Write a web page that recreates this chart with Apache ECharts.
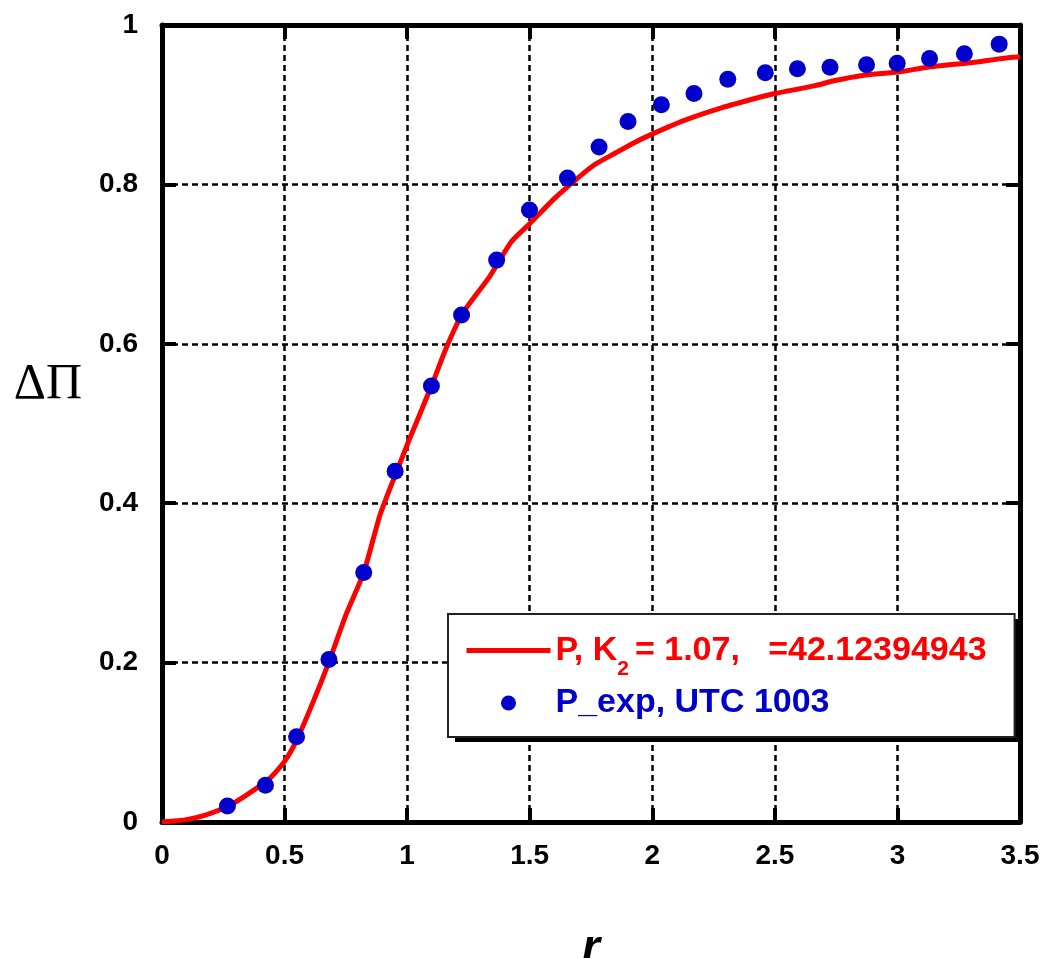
<!DOCTYPE html>
<html><head><meta charset="utf-8">
<script src="https://cdn.jsdelivr.net/npm/echarts@6/dist/echarts.min.js"></script>
<style>html,body{margin:0;padding:0;background:#fff}#c{width:1056px;height:958px}</style>
</head><body><div id="c"></div>
<script>
// Model curve P (red line)
const lineR = [0, 0.1, 0.18, 0.264, 0.346, 0.44, 0.5, 0.55, 0.617, 0.68, 0.753, 0.823, 0.889, 0.951, 1.005, 1.099, 1.161, 1.226, 1.338, 1.425, 1.501, 1.593, 1.654, 1.761, 1.853, 1.93, 2.006, 2.128, 2.282, 2.434, 2.5, 2.665, 2.741, 2.863, 3.001, 3.123, 3.307, 3.49, 3.5];
const lineP = [0, 0.003, 0.009, 0.019, 0.034, 0.055, 0.076, 0.103, 0.151, 0.2, 0.262, 0.313, 0.385, 0.435, 0.477, 0.547, 0.596, 0.638, 0.685, 0.728, 0.751, 0.78, 0.797, 0.824, 0.84, 0.853, 0.864, 0.88, 0.896, 0.909, 0.914, 0.924, 0.93, 0.937, 0.941, 0.947, 0.953, 0.96, 0.96];
// Experimental points (blue dots)
const expR = [0.267, 0.422, 0.549, 0.681, 0.823, 0.951, 1.099, 1.222, 1.365, 1.499, 1.654, 1.783, 1.901, 2.037, 2.170, 2.308, 2.461, 2.592, 2.725, 2.874, 2.999, 3.131, 3.273, 3.415];
const expP = [0.020, 0.046, 0.107, 0.204, 0.313, 0.440, 0.547, 0.636, 0.705, 0.768, 0.808, 0.847, 0.879, 0.900, 0.914, 0.932, 0.940, 0.945, 0.947, 0.950, 0.952, 0.958, 0.964, 0.976];
const lineName = 'P, K2 = 1.07,   =42.12394943';
const expName = 'P_exp, UTC 1003';
const xName = 'r';
const yName = '\u0394\u03A0';

const chart = echarts.init(document.getElementById('c'), null, {renderer: 'canvas'});
const lbl = {fontFamily: 'Liberation Sans', fontWeight: 'bold', fontSize: 28, color: '#000'};
const frameLine = {show: true, onZero: false, lineStyle: {color: '#000', width: 5}};
const tick = {show: true, inside: true, length: 14, lineStyle: {color: '#000', width: 4}};
const grid = {show: true, lineStyle: {color: '#000', width: 2.5, type: [6, 4]}};
chart.setOption({
  animation: false,
  backgroundColor: '#fff',
  grid: {left: 162, right: 36, top: 25, bottom: 136, containLabel: false, outerBoundsMode: 'none'},
  xAxis: [{
    type: 'value', min: 0, max: 3.5, interval: 0.5, position: 'bottom',
    name: xName, nameLocation: 'middle', nameGap: 104,
    nameTextStyle: {fontFamily: 'Liberation Sans', fontWeight: 'bold', fontStyle: 'italic', fontSize: 46, color: '#000'},
    axisLine: frameLine, axisTick: tick, splitLine: grid,
    axisLabel: Object.assign({margin: 20}, lbl)
  }, {
    type: 'value', min: 0, max: 3.5, interval: 0.5, position: 'top',
    axisLine: frameLine, axisTick: tick, splitLine: {show: false}, axisLabel: {show: false}
  }],
  yAxis: [{
    type: 'value', min: 0, max: 1, interval: 0.2, position: 'left',
    name: '{a|' + yName + '}', nameLocation: 'middle', nameRotate: 0, nameGap: 80,
    nameTextStyle: {rich: {a: {fontFamily: 'Liberation Serif', fontSize: 50, color: '#000', padding: [0, 0, 77, 0]}}},
    axisLine: frameLine, axisTick: tick, splitLine: grid,
    axisLabel: Object.assign({margin: 24}, lbl)
  }, {
    type: 'value', min: 0, max: 1, interval: 0.2, position: 'right',
    axisLine: frameLine, axisTick: tick, splitLine: {show: false}, axisLabel: {show: false}
  }],
  graphic: [{
    type: 'rect', z: 3, silent: true,
    shape: {x: 455, y: 619, width: 566, height: 123},
    style: {fill: '#000'}
  }],
  legend: {
    orient: 'vertical', left: 448, top: 614, z: 5,
    padding: [7, 28, 17, 16], itemGap: 6,
    itemWidth: 84, itemHeight: 15,
    backgroundColor: '#fff', borderColor: '#222', borderWidth: 2, borderRadius: 0,
    lineStyle: {width: 5},
    selectedMode: false,
    data: [{name: lineName, itemStyle: {opacity: 0}}, {name: expName, icon: 'circle'}],
    formatter: function (name) {
      if (name === lineName) return '{m|P, K}{sub|2}{m|= 1.07,   =42.12394943}';
      return '{b|' + name + '}';
    },
    textStyle: {
      rich: {
        m: {fontFamily: 'Liberation Sans', fontWeight: 'bold', fontSize: 34, color: '#ff0000', lineHeight: 40, verticalAlign: 'middle'},
        sub: {fontFamily: 'Liberation Sans', fontWeight: 'bold', fontSize: 21, color: '#ff0000', lineHeight: 40, padding: [38, 6, 0, 0], verticalAlign: 'middle'},
        b: {fontFamily: 'Liberation Sans', fontWeight: 'bold', fontSize: 34, color: '#0000cc', lineHeight: 40, verticalAlign: 'middle'}
      }
    }
  },
  series: [{
    name: lineName, type: 'line', xAxisIndex: 0, yAxisIndex: 0,
    data: lineR.map((r, i) => [r, lineP[i]]),
    showSymbol: false, symbol: 'none', smooth: 0.2,
    lineStyle: {color: '#ff0000', width: 5}, itemStyle: {color: '#ff0000'}, z: 2
  }, {
    name: expName, type: 'scatter', xAxisIndex: 0, yAxisIndex: 0,
    data: expR.map((r, i) => [r, expP[i]]),
    symbol: 'circle', symbolSize: 17,
    itemStyle: {color: '#0000cc', opacity: 1}, z: 3
  }]
});
</script></body></html>
